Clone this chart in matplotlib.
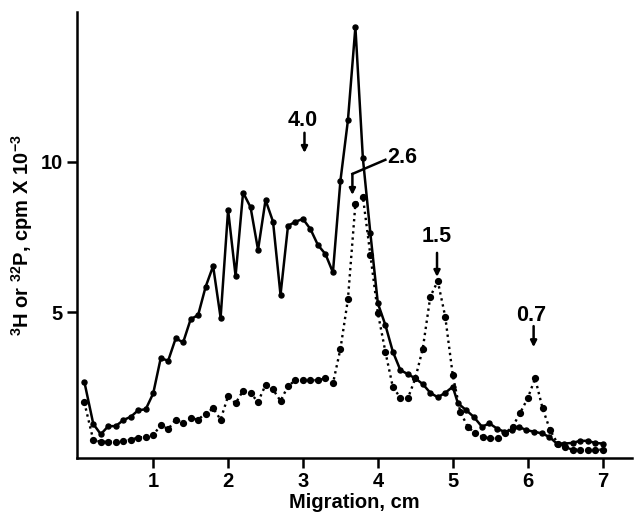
import numpy as np
import matplotlib
matplotlib.use("Agg")
import matplotlib.pyplot as plt

plt.rcParams['font.family'] = ['Liberation Sans', 'DejaVu Sans']
plt.rcParams['mathtext.fontset'] = 'custom'
plt.rcParams['mathtext.rm'] = 'Liberation Sans:bold'
plt.rcParams['mathtext.bf'] = 'Liberation Sans:bold'

# solid curve (3H)
solid_x = [0.08, 0.2, 0.3, 0.4, 0.5, 0.6, 0.7, 0.8, 0.9, 1.0,
           1.1, 1.2, 1.3, 1.4, 1.5, 1.6, 1.7, 1.8, 1.9, 2.0,
           2.1, 2.2, 2.3, 2.4, 2.5, 2.6, 2.7, 2.8, 2.9, 3.0,
           3.1, 3.2, 3.3, 3.4, 3.5, 3.6, 3.7, 3.8, 3.9, 4.0,
           4.1, 4.2, 4.3, 4.4, 4.5, 4.6, 4.7, 4.8, 4.9, 5.0,
           5.07, 5.18, 5.28, 5.39, 5.49, 5.59, 5.69, 5.79, 5.88, 5.98,
           6.09, 6.19, 6.29, 6.39, 6.49, 6.6, 6.7, 6.8, 6.9, 7.0]
solid_y = [2.68, 1.27, 0.93, 1.2, 1.2, 1.4, 1.51, 1.73, 1.76, 2.29,
           3.46, 3.38, 4.12, 3.99, 4.76, 4.9, 5.84, 6.53, 4.81, 8.4,
           6.2, 8.98, 8.49, 7.07, 8.73, 8.01, 5.57, 7.87, 8.01, 8.1,
           7.76, 7.23, 6.93, 6.32, 9.37, 11.38, 14.49, 10.12, 7.62, 5.29,
           4.57, 3.68, 3.07, 2.93, 2.79, 2.6, 2.31, 2.16, 2.31, 2.51,
           1.96, 1.73, 1.51, 1.18, 1.29, 1.12, 1.01, 1.07, 1.18, 1.07,
           1.01, 0.96, 0.84, 0.62, 0.62, 0.64, 0.71, 0.71, 0.64, 0.62]

# dotted curve (32P)
dot_x = [0.08, 0.2, 0.3, 0.4, 0.5, 0.6, 0.7, 0.8, 0.9, 1.0,
         1.1, 1.2, 1.3, 1.4, 1.5, 1.6, 1.7, 1.8, 1.9, 2.0,
         2.1, 2.2, 2.3, 2.4, 2.5, 2.6, 2.7, 2.8, 2.9, 3.0,
         3.1, 3.2, 3.3, 3.4, 3.5, 3.6, 3.7, 3.8, 3.9, 4.0,
         4.1, 4.2, 4.3, 4.4, 4.5, 4.6, 4.7, 4.8, 4.9, 5.0,
         5.1, 5.2, 5.3, 5.4, 5.5, 5.6, 5.7, 5.8, 5.9, 6.0,
         6.1, 6.2, 6.3, 6.4, 6.5, 6.6, 6.7, 6.8, 6.9, 7.0]
dot_y = [1.99, 0.73, 0.68, 0.68, 0.68, 0.70, 0.75, 0.82, 0.84, 0.9,
         1.23, 1.1, 1.42, 1.31, 1.46, 1.42, 1.62, 1.79, 1.42, 2.2,
         1.96, 2.38, 2.29, 2.01, 2.57, 2.42, 2.04, 2.53, 2.73, 2.73,
         2.73, 2.73, 2.79, 2.62, 3.77, 5.42, 8.6, 8.84, 6.9, 4.97,
         3.68, 2.5, 2.15, 2.12, 2.79, 3.78, 5.51, 6.03, 4.84, 2.9,
         1.68, 1.18, 0.96, 0.84, 0.79, 0.79, 0.96, 1.18, 1.64, 2.12,
         2.79, 1.79, 1.07, 0.62, 0.49, 0.42, 0.42, 0.4, 0.4, 0.42]

# size markers (kb)
mark_labels = ["4.0", "2.6", "1.5", "0.7"]
mark_x = [3.02, 3.66, 4.79, 6.08]

fig = plt.figure(figsize=(6.35, 5.12), dpi=100)
ax = fig.add_axes([0.121, 0.105, 0.875, 0.872])

ax.plot(dot_x, dot_y, color="black", linestyle=(0, (1, 1.6)), lw=1.7,
        marker="o", markersize=4.2)
ax.plot(solid_x, solid_y, color="black", linestyle="-", lw=1.8,
        marker="o", markersize=3.6)

fs = 14.5
afs = 15.5
arrow = dict(arrowstyle="-|>", color="black", lw=1.8, mutation_scale=9,
             shrinkA=0, shrinkB=0)

# 4.0
ax.text(2.99, 11.37, mark_labels[0], ha="center", va="center", fontsize=afs, fontweight="bold")
ax.annotate("", xy=(mark_x[0], 10.3), xytext=(mark_x[0], 10.97), arrowprops=arrow)
# 2.6 with bent leader
ax.text(4.12, 10.15, mark_labels[1], ha="left", va="center", fontsize=afs, fontweight="bold")
ax.plot([4.10, mark_x[1]], [10.07, 9.6], color="black", lw=1.8)
ax.annotate("", xy=(mark_x[1], 8.9), xytext=(mark_x[1], 9.6), arrowprops=arrow)
# 1.5
ax.text(4.79, 7.5, mark_labels[2], ha="center", va="center", fontsize=afs, fontweight="bold")
ax.annotate("", xy=(mark_x[2], 6.17), xytext=(mark_x[2], 6.97), arrowprops=arrow)
# 0.7
ax.text(6.05, 4.9, mark_labels[3], ha="center", va="center", fontsize=afs, fontweight="bold")
ax.annotate("", xy=(mark_x[3], 3.83), xytext=(mark_x[3], 4.53), arrowprops=arrow)

ax.set_xlim(-0.02, 7.4)
ax.set_ylim(0.13, 15.0)
ax.set_xticks([1, 2, 3, 4, 5, 6, 7])
ax.set_yticks([5, 10])
ax.spines["top"].set_visible(False)
ax.spines["right"].set_visible(False)
ax.spines["left"].set_linewidth(1.8)
ax.spines["bottom"].set_linewidth(1.8)
ax.tick_params(direction="out", length=7, width=1.8, labelsize=fs, pad=3)
for lab in ax.get_xticklabels() + ax.get_yticklabels():
    lab.set_fontweight("bold")

ax.set_xlabel("Migration, cm", fontsize=fs, fontweight="bold", labelpad=1)
fig.text(22 / 635, 1 - 235 / 512, r"$^{3}$H or $^{32}$P, cpm X 10$^{-3}$",
         rotation=90, ha="center", va="center", fontsize=fs, fontweight="bold")

fig.savefig("out.png", dpi=100)
